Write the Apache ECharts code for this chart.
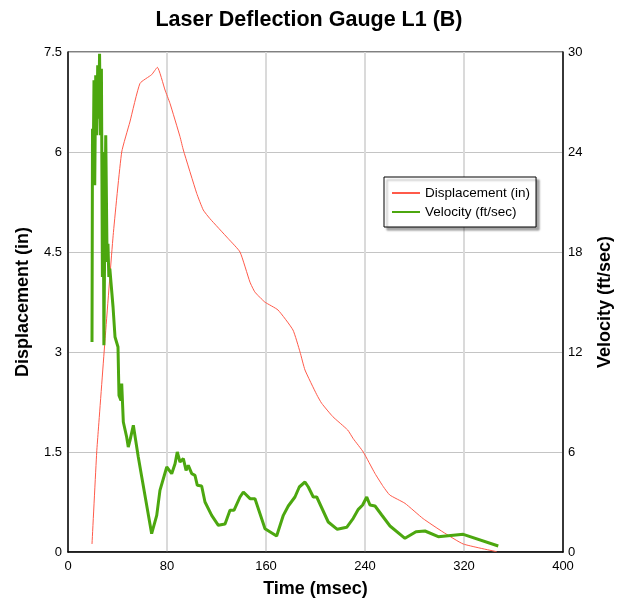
<!DOCTYPE html>
<html>
<head>
<meta charset="utf-8">
<title>Laser Deflection Gauge L1 (B)</title>
<script src="https://cdn.jsdelivr.net/npm/echarts@6/dist/echarts.min.js"></script>
<style>
  html, body { margin: 0; padding: 0; background: #fff; }
  #chart { width: 618px; height: 603px; }
</style>
</head>
<body>
<div id="chart"></div>
<script>
// displacement trace (in)
const dispTime = [19.4, 23.2, 24.5, 30, 36.5, 43.4, 50, 58.2, 67.6, 72.2, 78.4, 82.4, 90.5, 93.2, 104, 109.3, 114.7,
  129.5, 139, 147, 151, 159, 169.7, 181.8, 187.5, 191.5, 201, 205, 214, 226, 230.5, 238.6, 248, 254.8, 260,
  272.3, 287, 303, 319.4, 346.4];
const dispValue = [0.12, 1.5, 1.83, 3.2, 4.75, 6.0, 6.45, 7.03, 7.16, 7.27, 6.93, 6.73, 6.23, 6.03, 5.38, 5.13, 5.0,
  4.7, 4.5, 4.05, 3.9, 3.75, 3.63, 3.33, 3.0, 2.73, 2.36, 2.23, 2.03, 1.83, 1.7, 1.5, 1.18, 0.98, 0.855,
  0.73, 0.5, 0.3, 0.12, 0.005];

// velocity trace (ft/sec)
const velTime = [19.4, 19.8, 20.3, 21.0, 21.6, 22.4, 23.2, 24.0, 24.8, 25.5, 26.2, 27.0, 27.8, 28.4, 29.0, 29.6,
  30.5, 31.6, 32.3, 33.0, 33.8, 36.4, 38.0, 40.4, 41.2, 42.8, 43.4, 44.7, 47.4, 48.7, 50.1, 52.8, 54.9, 56.8,
  59.6, 67.6, 71.7, 74.3, 79.8, 83.8, 86.5, 88.3, 90.5, 93.2, 95.4, 97.2, 100, 102.6, 104.5, 108, 110.7, 116.1,
  121.5, 126.9, 130.9, 134.1, 139, 141.7, 147.1, 151.1, 159.2, 168.6, 174, 178, 183.4, 186.9, 191.5, 194.2,
  198.2, 201, 210.3, 217.6, 225.2, 230.5, 234.6, 238.1, 241.4, 244, 248.1, 253.5, 260.2, 272.3, 281.2, 288.5,
  299.2, 319.4, 347.7];
const velValue = [12.6, 25.4, 22.5, 28.3, 22.0, 28.6, 25.0, 29.2, 26.0, 29.9, 25.0, 29.0, 16.5, 24.0, 12.4, 18.0,
  25.0, 17.4, 18.5, 16.5, 17.0, 14.7, 12.9, 12.3, 9.4, 9.1, 10.1, 7.8, 6.9, 6.3, 6.7, 7.6, 6.6, 5.7,
  4.5, 1.1, 2.2, 3.7, 5.1, 4.7, 5.3, 6.0, 5.4, 5.6, 4.9, 5.2, 4.7, 4.6, 4.0, 3.96, 3.0, 2.2,
  1.6, 1.68, 2.5, 2.5, 3.3, 3.6, 3.2, 3.2, 1.4, 0.96, 2.2, 2.76, 3.3, 3.9, 4.2, 3.9,
  3.3, 3.3, 1.8, 1.36, 1.48, 2.02, 2.56, 2.82, 3.3, 2.82, 2.76, 2.22, 1.56, 0.82, 1.22, 1.26,
  0.92, 1.06, 0.36];

const timeTicks = [0, 80, 160, 240, 320, 400];

const chart = echarts.init(document.getElementById('chart'));

const nameStyle = { fontFamily: 'Liberation Sans', fontWeight: 'bold', fontSize: 18, color: '#000' };
const labelStyle = { fontFamily: 'Liberation Sans', fontSize: 13, color: '#000' };

chart.setOption({
  animation: false,
  backgroundColor: '#fff',
  title: {
    text: 'Laser Deflection Gauge L1 (B)',
    left: 'center',
    top: 9,
    padding: 0,
    textStyle: { fontFamily: 'Liberation Sans', fontWeight: 'bold', fontSize: 21.5, color: '#000' }
  },
  legend: {
    orient: 'vertical',
    left: 384,
    top: 177,
    padding: [9, 6, 8, 7],
    itemWidth: 28,
    itemHeight: 12,
    itemGap: 5,
    backgroundColor: '#fff',
    borderColor: '#000',
    borderWidth: 1,
    shadowColor: 'rgba(0,0,0,0.35)',
    shadowOffsetX: 3,
    shadowOffsetY: 3,
    shadowBlur: 2,
    itemStyle: { opacity: 0 },
    textStyle: { ...labelStyle, fontSize: 13.5 },
    data: ['Displacement (in)', 'Velocity (ft/sec)']
  },
  grid: {
    left: 68, right: 55, top: 52, bottom: 51,
    outerBoundsMode: 'none',
    containLabel: false,
    show: true, borderColor: '#000', borderWidth: 1
  },
  xAxis: {
    type: 'value',
    min: timeTicks[0],
    max: timeTicks[timeTicks.length - 1],
    interval: 80,
    name: 'Time (msec)',
    nameLocation: 'middle',
    nameGap: 28,
    nameTextStyle: nameStyle,
    axisLine: { lineStyle: { color: '#000', width: 1.5 } },
    axisTick: { show: false },
    axisLabel: { ...labelStyle, margin: 8 },
    splitLine: { lineStyle: { color: '#dadada', width: 2 } }
  },
  yAxis: [
    {
      type: 'value',
      min: 0, max: 7.5, interval: 1.5,
      name: 'Displacement (in)',
      nameLocation: 'middle',
      nameGap: 36,
      nameTextStyle: nameStyle,
      axisLine: { show: true, lineStyle: { color: '#000', width: 1.5 } },
      axisTick: { show: false },
      axisLabel: { ...labelStyle, margin: 6 },
      splitLine: { lineStyle: { color: '#c4c4c4', width: 1 } }
    },
    {
      type: 'value',
      min: 0, max: 30, interval: 6,
      name: 'Velocity (ft/sec)',
      nameLocation: 'middle',
      nameGap: 33,
      nameRotate: 90,
      nameTextStyle: nameStyle,
      axisLine: { show: true, lineStyle: { color: '#000', width: 1.5 } },
      axisTick: { show: false },
      axisLabel: { ...labelStyle, margin: 5 },
      splitLine: { show: false }
    }
  ],
  series: [
    {
      name: 'Displacement (in)',
      type: 'line',
      yAxisIndex: 0,
      symbol: 'none',
      smooth: 0.15,
      color: '#ff5a4a',
      lineStyle: { color: '#ff5a4a', width: 1 },
      data: dispTime.map((t, i) => [t, dispValue[i]])
    },
    {
      name: 'Velocity (ft/sec)',
      type: 'line',
      yAxisIndex: 1,
      symbol: 'none',
      color: '#4ca70f',
      lineStyle: { color: '#4ca70f', width: 3 },
      data: velTime.map((t, i) => [t, velValue[i]])
    }
  ]
});
</script>
</body>
</html>
